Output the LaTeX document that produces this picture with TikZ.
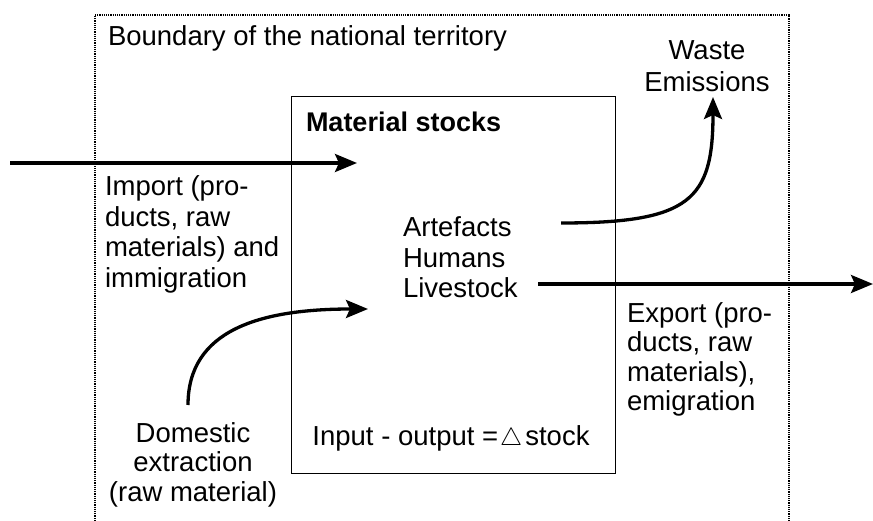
\documentclass[tikz,border=0pt]{standalone}
\usepackage{fontspec}
\setmainfont{Liberation Sans}
\usetikzlibrary{arrows.meta}
\begin{document}
\begin{tikzpicture}[x=1pt,y=-1pt,
  txt/.style={font=\fontsize{27.5}{30.5}\selectfont, inner sep=0pt, outer sep=0pt},
  flow/.style={line width=3.3pt, -{Stealth[length=22pt,width=18pt,inset=4pt]}},
  boundary/.style={line width=1.2pt, densely dotted},
  stockbox/.style={draw, line width=1.2pt, minimum width=324pt, minimum height=377pt, inner sep=0pt, anchor=north west},
]
\useasboundingbox (0,0) rectangle (873,521);
% national boundary (open at bottom)
\draw[boundary] (95,521) -- (95,15) -- (789,15) -- (789,521);
\node[txt, anchor=base west] (bnd) at (108,46) {Boundary of the national territory};
% material stocks box
\node[stockbox] (box) at (291,96) {};
\node[txt, font=\fontsize{27}{30}\selectfont\bfseries, anchor=base west] (title) at (306,132) {Material stocks};
% multi-line nodes: anchor base = baseline of last line
\node[txt, anchor=base west, align=left] (stocks) at (403,298) {Artefacts\\Humans\\Livestock};
\node[txt, anchor=base] (balance) at (451,445) {Input - output =\hspace{2pt}$\triangle$\hspace{3pt}stock};
% labels
\node[txt, font=\fontsize{27.5}{32}\selectfont, anchor=base, align=center] (waste) at (707,92) {Waste\\Emissions};
\node[txt, anchor=base west, align=left] (import) at (105,287.5) {Import (pro-\\ducts, raw\\materials) and\\immigration};
\node[txt, font=\fontsize{27.5}{29.5}\selectfont, anchor=base west, align=left] (export) at (627,410.5) {Export (pro-\\ducts, raw\\materials),\\emigration};
\node[txt, font=\fontsize{27.5}{29.5}\selectfont, anchor=base, align=center] (domestic) at (193,501) {Domestic\\extraction\\(raw material)};
% arrow end points
\coordinate (impS) at (10,163);
\coordinate (impE) at (357,163);
\coordinate (expS) at (538,284);
\coordinate (expE) at (873,284);
\coordinate (wasS) at (561,223);
\coordinate (wasE) at (713,97);
\coordinate (domS) at (188,405);
\coordinate (domE) at (368,309);
% flows
\draw[flow] (impS) -- (impE);
\draw[flow] (expS) -- (expE);
\draw[flow] (wasS) .. controls (690,223) and (713,200) .. (wasE);
\draw[flow] (domS) .. controls (188,330) and (260,309) .. (domE);
\end{tikzpicture}
\end{document}
